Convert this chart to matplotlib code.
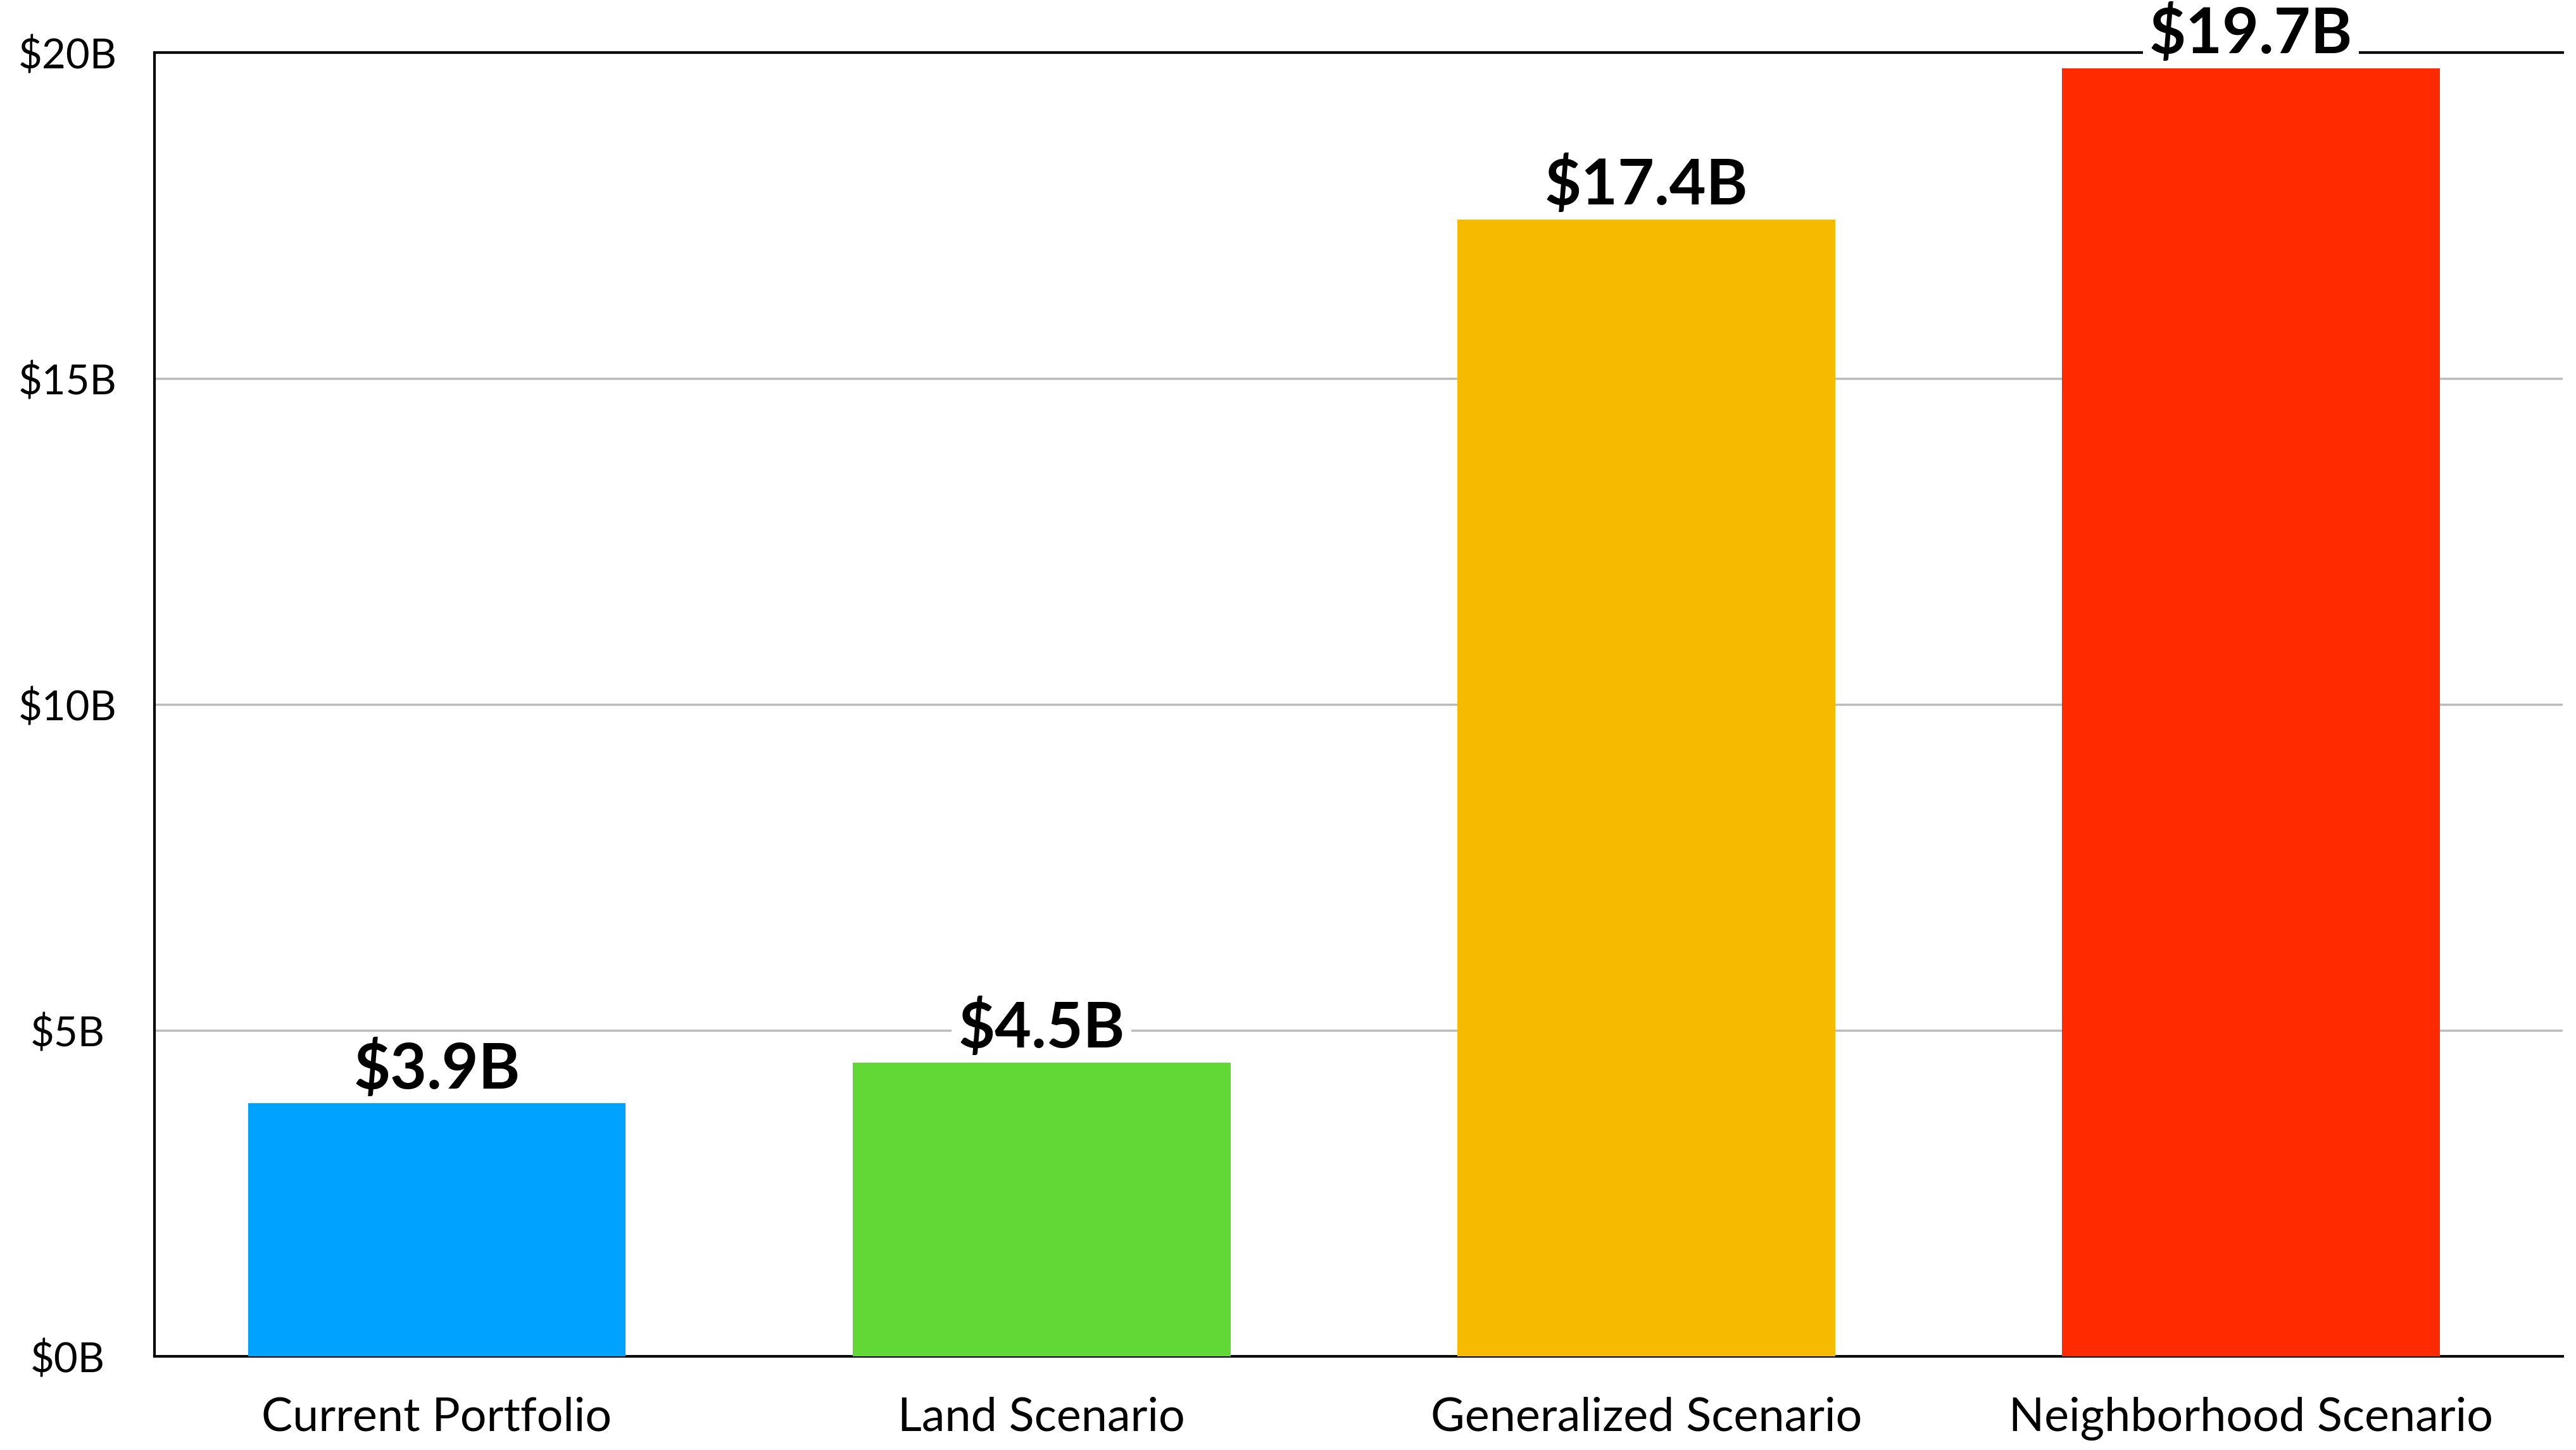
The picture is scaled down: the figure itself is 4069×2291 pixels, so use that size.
import matplotlib.pyplot as plt
from matplotlib import font_manager

categories = ["Current Portfolio", "Land Scenario", "Generalized Scenario", "Neighborhood Scenario"]
values = [3.88, 4.51, 17.44, 19.76]
value_labels = ["$3.9B", "$4.5B", "$17.4B", "$19.7B"]
colors = ["#00A2FF", "#61D836", "#F6BA00", "#FF2A00"]
yticks = [0, 5, 10, 15, 20]
ytick_labels = ["$0B", "$5B", "$10B", "$15B", "$20B"]

names = {f.name for f in font_manager.fontManager.ttflist}
tick_font = "Liberation Sans Narrow" if "Liberation Sans Narrow" in names else "Lato"

fig = plt.figure(figsize=(40.69, 22.91), dpi=100)
ax = fig.add_axes([94/1568, 1 - 826/883, (1560-94)/1568, (826-32)/883])
ax.set_axisbelow(True)

x = list(range(len(categories)))
bars = ax.bar(x, values, width=0.625, color=colors, zorder=2)

ax.set_xlim(-0.467, 3.516)
ax.set_ylim(0, 20)
ax.set_yticks(yticks)
ax.set_yticklabels(ytick_labels, fontsize=47, family=tick_font)
for lbl in ax.get_yticklabels():
    lbl.set_horizontalalignment("center")
ax.set_xticks(x)
ax.set_xticklabels(categories, fontsize=53, family="Lato")
ax.tick_params(axis="y", length=0, pad=99)
ax.tick_params(axis="x", length=0, pad=46)
ax.yaxis.grid(True, color="#BBBBBB", linewidth=2.5)

ax.spines["right"].set_visible(False)
for s in ["left", "bottom", "top"]:
    ax.spines[s].set_linewidth(3)
    ax.spines[s].set_zorder(1)

# labels sit under the bars so their white box only hides grid / top spine
for xi, v, lab in zip(x, values, value_labels):
    ax.annotate(lab, (xi, v), xytext=(0, 5), textcoords="offset points", ha="center", va="bottom",
                fontsize=72, fontweight="bold", family="Lato", zorder=1.5,
                bbox=dict(boxstyle="square,pad=0.1", fc="white", ec="none"))

fig.savefig("out.png", dpi=100)
